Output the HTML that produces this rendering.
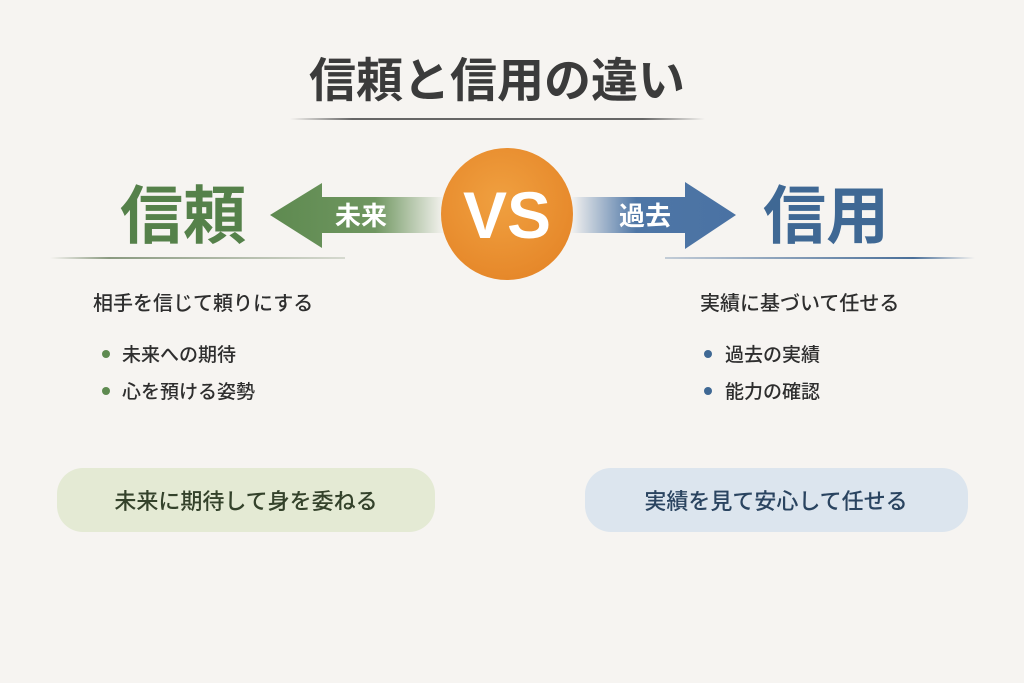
<!DOCTYPE html>
<html><head><meta charset="utf-8"><style>
html,body{margin:0;padding:0;background:#f6f4f1;}
svg{display:block;}
text{font-family:"Liberation Sans","Noto Sans CJK JP",sans-serif;}
</style></head><body>
<svg width="1024" height="683" viewBox="0 0 1024 683" xmlns="http://www.w3.org/2000/svg">
<defs>
<linearGradient id="gl" x1="0" x2="1"><stop offset="0" stop-color="#5e8a50"/><stop offset="0.6" stop-color="#6f9660"/><stop offset="1" stop-color="#6f9660" stop-opacity="0"/></linearGradient>
<linearGradient id="gr" x1="0" x2="1"><stop offset="0" stop-color="#4e76a6" stop-opacity="0"/><stop offset="0.4" stop-color="#4e76a6"/><stop offset="1" stop-color="#4a72a3"/></linearGradient>
<linearGradient id="lt" x1="0" x2="1"><stop offset="0" stop-color="#666" stop-opacity="0"/><stop offset="0.15" stop-color="#666"/><stop offset="0.85" stop-color="#666"/><stop offset="1" stop-color="#666" stop-opacity="0"/></linearGradient>
<linearGradient id="lg" x1="0" x2="1"><stop offset="0" stop-color="#8a9a80" stop-opacity="0"/><stop offset="0.2" stop-color="#8a9a80"/><stop offset="1" stop-color="#8a9a80" stop-opacity="0.3"/></linearGradient>
<linearGradient id="lb" x1="0" x2="1"><stop offset="0" stop-color="#4a6f99" stop-opacity="0.3"/><stop offset="0.8" stop-color="#4a6f99"/><stop offset="1" stop-color="#4a6f99" stop-opacity="0"/></linearGradient>
<radialGradient id="og" cx="0.45" cy="0.4" r="0.6"><stop offset="0" stop-color="#f0a040"/><stop offset="1" stop-color="#e6882a"/></radialGradient>
</defs>
<text x="497" y="97" font-size="47" font-weight="bold" fill="#3b3b3b" text-anchor="middle">信頼と信用の違い</text>
<rect x="290" y="118" width="415" height="2" fill="url(#lt)"/>

<text x="183" y="238" font-size="63" font-weight="bold" fill="#55814a" text-anchor="middle">信頼</text>
<text x="826" y="238" font-size="63" font-weight="bold" fill="#3f6894" text-anchor="middle">信用</text>

<path d="M270,215 L322,183 L322,197 L445,197 L445,233 L322,233 L322,248 Z" fill="url(#gl)"/>
<path d="M570,197 L685,197 L685,182 L736,215 L685,249 L685,233 L570,233 Z" fill="url(#gr)"/>
<text x="361" y="225" font-size="26" font-weight="bold" fill="#fff" text-anchor="middle">未来</text>
<text x="645" y="225" font-size="26" font-weight="bold" fill="#fff" text-anchor="middle">過去</text>

<circle cx="507" cy="214" r="66" fill="url(#og)"/>
<text x="507" y="238" font-size="66" font-weight="bold" fill="#fff" text-anchor="middle">VS</text>

<rect x="50" y="257" width="295" height="2" fill="url(#lg)"/>
<rect x="665" y="257" width="310" height="2" fill="url(#lb)"/>

<g font-weight="500" fill="#2e2e2e">
<text x="93" y="310" font-size="20">相手を信じて頼りにする</text>
<text x="122" y="361" font-size="19">未来への期待</text>
<text x="122" y="398" font-size="19">心を預ける姿勢</text>
<text x="700" y="310" font-size="20">実績に基づいて任せる</text>
<text x="725" y="361" font-size="19">過去の実績</text>
<text x="725" y="398" font-size="19">能力の確認</text>
</g>
<circle cx="106" cy="354" r="4" fill="#5e8a50"/>
<circle cx="106" cy="391" r="4" fill="#5e8a50"/>
<circle cx="708" cy="354" r="4" fill="#3f6894"/>
<circle cx="708" cy="391" r="4" fill="#3f6894"/>

<rect x="57" y="468" width="378" height="64" rx="26" fill="#e4ead4"/>
<text x="246" y="509" font-size="22" font-weight="500" fill="#34422b" text-anchor="middle">未来に期待して身を委ねる</text>
<rect x="585" y="468" width="383" height="64" rx="26" fill="#dce5ee"/>
<text x="776" y="509" font-size="22" font-weight="500" fill="#2a4460" text-anchor="middle">実績を見て安心して任せる</text>
</svg>
</body></html>
